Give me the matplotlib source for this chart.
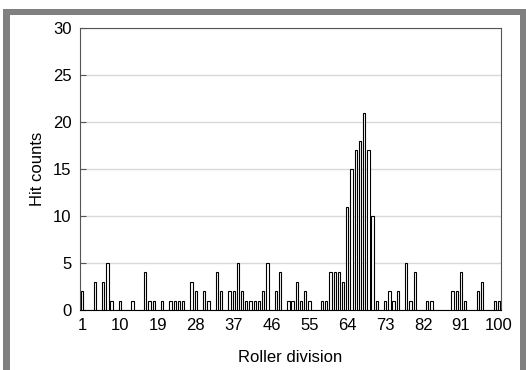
import matplotlib
matplotlib.use("Agg")
import matplotlib.pyplot as plt
from matplotlib.patches import Rectangle

plt.rcParams["font.family"] = ["Liberation Sans", "DejaVu Sans"]

# roller division -> hit counts (divisions not listed have zero hits)
divisions = [1, 4, 6, 7, 8, 10, 13, 16, 17, 18, 20, 22, 23, 24, 25, 27, 28, 30, 31,
             33, 34, 36, 37, 38, 39, 40, 41, 42, 43, 44, 45, 47, 48, 50, 51, 52, 53,
             54, 55, 58, 59, 60, 61, 62, 63, 64, 65, 66, 67, 68, 69, 70, 71, 73, 74,
             75, 76, 78, 79, 80, 83, 84, 89, 90, 91, 92, 95, 96, 99, 100]
hits = [2, 3, 3, 5, 1, 1, 1, 4, 1, 1, 1, 1, 1, 1, 1, 3, 2, 2, 1,
        4, 2, 2, 2, 5, 2, 1, 1, 1, 1, 2, 5, 2, 4, 1, 1, 3, 1,
        2, 1, 1, 1, 4, 4, 4, 3, 11, 15, 17, 18, 21, 17, 10, 1, 1, 2,
        1, 2, 5, 1, 4, 1, 1, 2, 2, 4, 1, 2, 3, 1, 1]
xticks = [1, 10, 19, 28, 37, 46, 55, 64, 73, 82, 91, 100]
yticks = [0, 5, 10, 15, 20, 25, 30]

W, H = 526, 370
fig = plt.figure(figsize=(W / 100, H / 100), dpi=100)
fig.patch.set_facecolor("white")

# grey frame around the figure
frame = "#808080"
for x0, y0, w, h in [(3, 0, 7, 361), (3, 355, 523, 6), (520, 0, 6, 361)]:
    fig.patches.append(Rectangle((x0 / W, y0 / H), w / W, h / H, transform=fig.transFigure,
                                 facecolor=frame, edgecolor="none", zorder=0))

ax = fig.add_axes([80 / W, 60 / H, 421 / W, 282 / H])
ax.bar(divisions, hits, width=0.55, color="white", edgecolor="black", linewidth=0.8, zorder=3)

ax.set_xlim(0.5, 100.5)
ax.set_ylim(0, 30)
ax.set_xticks(xticks)
ax.set_yticks(yticks)
ax.tick_params(axis="x", length=0, labelsize=12, pad=6)
ax.tick_params(axis="y", direction="in", length=4, width=0.8, labelsize=12, pad=6, color="#555555")
ax.yaxis.grid(True, color="#d9d9d9", linewidth=1.0, zorder=0)
ax.set_axisbelow(True)
for side in ["left", "right", "top", "bottom"]:
    ax.spines[side].set_color("#555555")
    ax.spines[side].set_linewidth(0.8)
ax.spines["bottom"].set_color("black")

ax.set_xlabel("Roller division", fontsize=12, labelpad=12)
ax.set_ylabel("Hit counts", fontsize=12, labelpad=6)

fig.savefig("out.png", dpi=100)
